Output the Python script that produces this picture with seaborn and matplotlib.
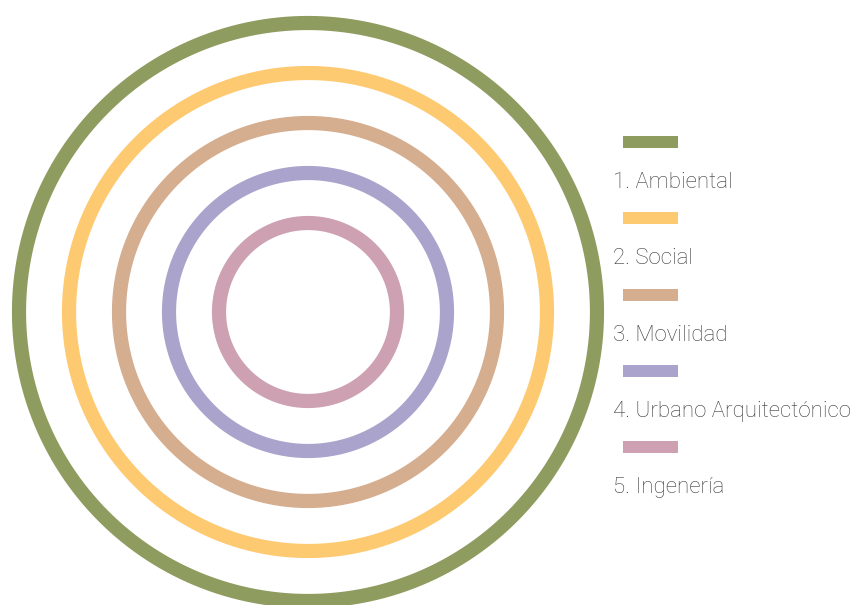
import numpy as np
import pandas as pd
import matplotlib.pyplot as plt
from matplotlib.patches import Rectangle
import seaborn as sns

# ring categories, inner to outer ring level, colours
categories = ["1. Ambiental", "2. Social", "3. Movilidad",
              "4. Urbano Arquitectónico", "5. Ingenería"]
ring_level = [5, 4, 3, 2, 1]
colors = ["#8f9c5f", "#fdca72", "#d5ad8f", "#aaa3cc", "#cda1b1"]

sns.set_theme(style="white")
plt.rcParams['font.family'] = ['Roboto', 'DejaVu Sans']

fig = plt.figure(figsize=(8.53, 6.05), dpi=100)
ax = fig.add_axes([0, 0, 1, 1])

# build circle outlines (pixel units, centre at 308, 312)
cx, cy = 308, 312
theta = np.linspace(0, 2 * np.pi, 721)
rows = []
for cat, lvl in zip(categories, ring_level):
    r = 39 + 50 * lvl
    for t in theta:
        rows.append({"cat": cat, "x": cx + r * np.cos(t), "y": cy + r * np.sin(t)})
df = pd.DataFrame(rows)

sns.lineplot(data=df, x="x", y="y", hue="cat", palette=dict(zip(categories, colors)),
             sort=False, estimator=None, linewidth=10.2, legend=False, ax=ax)

# legend: colour bar above each label
for i, (cat, col) in enumerate(zip(categories, colors)):
    yc = 142 + 76.3 * i
    ax.add_patch(Rectangle((623, yc - 6), 55, 12, color=col, lw=0))
    ax.text(613, yc + 46, cat, fontsize=16, fontweight="light", color="#3a3a3a",
            va="baseline", ha="left")

ax.set_xlim(0, 853)
ax.set_ylim(605, 0)
ax.set_aspect("equal")
ax.axis("off")

plt.savefig("out.png", dpi=100)
